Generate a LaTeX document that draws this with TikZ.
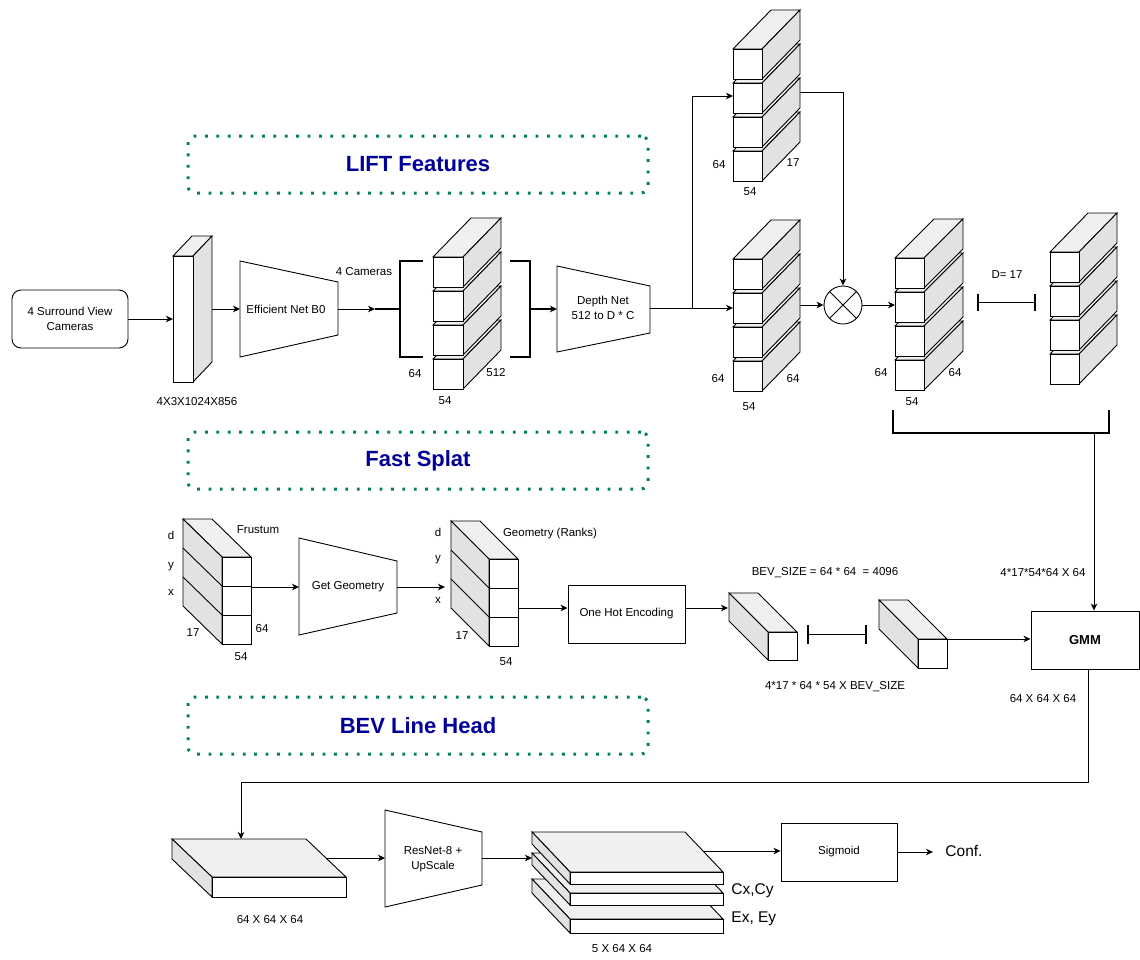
\documentclass[tikz,border=0pt]{standalone}
\usepackage{fontspec}
\setmainfont{Liberation Sans}
\usetikzlibrary{arrows.meta}

\definecolor{topgray}{gray}{0.94}
\definecolor{sidegray}{gray}{0.885}
\definecolor{dotgreen}{RGB}{0,128,96}
\definecolor{titleblue}{RGB}{0,0,153}

% Cuboid whose depth recedes to the upper right.
% #1,#2 = top-left corner of the front face, #3 = width, #4 = height, #5/#6 = depth in x / y
\newcommand{\blockUR}[6]{%
  \filldraw[fill=topgray] (#1,#2) -- ++(#5,-#6) -- ++(#3,0) -- ++(-#5,#6) -- cycle;
  \filldraw[fill=sidegray] (#1+#3,#2) -- ++(#5,-#6) -- ++(0,#4) -- ++(-#5,#6) -- cycle;
  \filldraw[fill=white] (#1,#2) rectangle ++(#3,#4);
}
% Cuboid whose depth recedes to the upper left.
\newcommand{\blockUL}[6]{%
  \filldraw[fill=topgray] (#1,#2) -- ++(-#5,-#6) -- ++(#3,0) -- ++(#5,#6) -- cycle;
  \filldraw[fill=sidegray] (#1,#2) -- ++(-#5,-#6) -- ++(0,#4) -- ++(#5,#6) -- cycle;
  \filldraw[fill=white] (#1,#2) rectangle ++(#3,#4);
}

\begin{document}
\begin{tikzpicture}[x=1pt,y=-1pt,line width=0.9pt,
  lbl/.style={font=\fontsize{11.5}{14.5}\selectfont,inner sep=0pt},
  big/.style={font=\fontsize{15.5}{18}\selectfont,inner sep=0pt},
  arr/.style={-{Stealth[length=7pt,width=6.5pt,inset=2pt]}},
  bracket/.style={line width=2pt},
  dimbar/.style={line width=1.8pt},
  procbox/.style={draw,minimum width=116pt,minimum height=58pt,inner sep=0pt,
    font=\fontsize{11.5}{14.5}\selectfont},
  secbox/.style={draw=dotgreen,line width=3pt,dash pattern=on 2.8pt off 8.6pt,
    rounded corners=7pt,minimum width=460pt,minimum height=57pt,
    text=titleblue,font=\bfseries\fontsize{22}{26}\selectfont}]
\useasboundingbox (0,0) rectangle (1140,959);

% ---------------- section titles ----------------
\node[secbox] (liftT) at (418,164.5) {LIFT Features};
\node[secbox] (splatT) at (418,460.5) {Fast Splat};
\node[secbox] (bevT) at (418,725.5) {BEV Line Head};

% ---------------- camera input ----------------
\node[draw,rounded corners=9pt,minimum width=116pt,minimum height=58pt,align=center,
  font=\fontsize{11.5}{14.5}\selectfont] (cams) at (70,319) {4 Surround View\\Cameras};

\blockUR{173}{256}{20}{126}{19}{20}
\node[lbl] (imgLbl) at (197,402) {4X3X1024X856};
\coordinate (slabIn) at (173,319);
\coordinate (slabOut) at (212,309);
\draw[arr] (cams.east) -- (slabIn);

% EfficientNet encoder
\draw (240,261) -- (338,282) -- (338,335) -- (240,357) -- cycle;
\node[lbl] (eff) at (286,309) {Efficient Net B0};
\coordinate (effIn) at (240,309);
\coordinate (effOut) at (338,309);
\draw[arr] (slabOut) -- (effIn);

% per-camera features between brackets
\coordinate (brTip) at (375,309);
\coordinate (brA) at (400,309);
\draw[arr] (effOut) -- (brTip);
\draw[bracket] (brTip) -- (brA);
\draw[bracket] (423,261) -- (400,261) -- (400,357) -- (423,357);
\node[lbl] (ncam) at (364,272) {4 Cameras};
\foreach \k in {3,2,1,0}{\blockUR{433}{257+34*\k}{30}{30}{38}{39}}
\node[lbl] (f64) at (415,374) {64};
\node[lbl] (f512) at (496,373) {512};
\node[lbl] (f54) at (445,401) {54};
\draw[bracket] (510,261) -- (530,261) -- (530,357) -- (510,357);
\coordinate (brB) at (530,309);

% Depth net
\draw (557,266) -- (650,286) -- (650,333) -- (557,352) -- cycle;
\node[lbl,align=center] (depth) at (603,308) {Depth Net\\512 to D * C};
\coordinate (depthIn) at (557,309);
\coordinate (depthOut) at (650,308);
\draw[bracket,arr] (brB) -- (depthIn);

\coordinate (split) at (692,308);
\coordinate (upIn) at (733,96);
\coordinate (aIn) at (733,308);
\draw (depthOut) -- (split);
\draw[arr] (split) |- (upIn);
\draw[arr] (split) -- (aIn);

% depth distribution (top)
\foreach \k in {3,2,1,0}{\blockUR{733}{49+34*\k}{29}{30}{38}{39}}
\node[lbl] (u64) at (719,165) {64};
\node[lbl] (u17) at (793,163) {17};
\node[lbl] (u54) at (750,192) {54};
\coordinate (upOut) at (800,92);

% context features
\foreach \k in {3,2,1,0}{\blockUR{733}{259+34*\k}{29}{30}{38}{39}}
\node[lbl] (a64l) at (718,379) {64};
\node[lbl] (a64r) at (793,379) {64};
\node[lbl] (a54) at (749,407) {54};
\coordinate (aOut) at (800,305);

% outer product
\node[draw,circle,minimum size=38pt,inner sep=0pt] (mul) at (843,305) {};
\draw (mul.north east) -- (mul.south west) (mul.north west) -- (mul.south east);
\draw[arr] (upOut) -| (mul.north);
\draw[arr] (aOut) -- (mul.west);
\coordinate (bIn) at (895,305);
\draw[arr] (mul.east) -- (bIn);

\foreach \k in {3,2,1,0}{\blockUR{895}{258+34*\k}{29}{30}{39}{39}}
\node[lbl] (b64l) at (881,373) {64};
\node[lbl] (b64r) at (955,373) {64};
\node[lbl] (b54) at (912,402) {54};

\node[lbl] (dlbl) at (1007,275) {D= 17};
\draw[dimbar] (978,294) -- (978,311) (978,302.5) -- (1035,302.5) (1035,294) -- (1035,311);

\foreach \k in {3,2,1,0}{\blockUR{1050}{252+34*\k}{29}{30}{38}{39}}

\draw[bracket] (893,410) -- (893,433) -- (1109,433) -- (1109,410);
\coordinate (brC) at (1094,433);

% GMM
\node[draw,minimum width=108pt,minimum height=58pt,inner sep=0pt,
  font=\bfseries\fontsize{13}{15}\selectfont] (gmm) at (1085,640) {GMM};
\draw[arr] (brC) -- (brC |- gmm.north);
\node[lbl] (gIn) at (1043,573) {4*17*54*64 X 64};
\node[lbl] (gOut) at (1043,699) {64 X 64 X 64};

% ---------------- Fast splat ----------------
\blockUL{222}{557}{29}{87}{39}{38}
\draw (222,586) -- (251,586) (222,615) -- (251,615);
\draw (222,586) -- ++(-39,-38) (222,615) -- ++(-39,-38);
\node[lbl] (frD) at (171,535) {d};
\node[lbl] (frY) at (171,567) {y};
\node[lbl] (frX) at (171,592) {x};
\node[lbl] (fr17) at (193,633) {17};
\node[lbl] (fr64) at (262,629) {64};
\node[lbl] (fr54) at (241,657) {54};
\node[lbl] (frT) at (258,530) {Frustum};
\coordinate (frOut) at (251,587);

\draw (299,538) -- (397,561) -- (397,613) -- (299,635) -- cycle;
\node[lbl] (gg) at (348,587) {Get Geometry};
\coordinate (ggIn) at (299,587);
\coordinate (ggOut) at (397,587);
\coordinate (geoIn) at (445,587);
\draw[arr] (frOut) -- (ggIn);
\draw[arr] (ggOut) -- (geoIn);

\blockUL{489}{559}{29}{87}{38}{38}
\draw (489,588) -- (518,588) (489,617) -- (518,617);
\draw (489,588) -- ++(-38,-38) (489,617) -- ++(-38,-38);
\node[lbl] (geD) at (438,532) {d};
\node[lbl] (geY) at (438,560) {y};
\node[lbl] (geX) at (438,600) {x};
\node[lbl] (ge17) at (462,636) {17};
\node[lbl] (ge54) at (506,662) {54};
\node[lbl] (geT) at (550,534) {Geometry (Ranks)};
\coordinate (geoOut) at (518,608);

\node[procbox,minimum width=117pt] (ohe) at (626.5,614) {One Hot Encoding};
\draw[arr] (geoOut) -- (geoOut -| ohe.west);
\coordinate (cub1In) at (728,608);
\draw[arr] (ohe.east |- geoOut) -- (cub1In);

\blockUL{768}{632}{29}{28}{39}{39}
\draw[dimbar] (808,625) -- (808,644) (808,634.5) -- (866,634.5) (866,625) -- (866,644);
\blockUL{918}{639}{29}{29}{39}{39}
\node[lbl] (bevSz) at (825,573) {BEV\_SIZE = 64 * 64 \ = 4096};
\node[lbl] (ohLbl) at (835,687) {4*17 * 64 * 54 X BEV\_SIZE};
\coordinate (cub2Out) at (947,639);
\draw[arr] (cub2Out) -- (cub2Out -| gmm.west);

% ---------------- BEV line head ----------------
\coordinate (gmmOut) at (1088,669);
\coordinate (turn) at (1088,782);
\coordinate (slabTop) at (241,839);
\draw[arr] (gmmOut) -- (turn) -| (slabTop);

\blockUL{212}{877}{134}{20}{40}{38}
\node[lbl] (bevLbl) at (270,920) {64 X 64 X 64};
\coordinate (bevOut) at (327,858);
\coordinate (resIn) at (385,858);
\draw[arr] (bevOut) -- (resIn);

\draw (385,810) -- (482,832) -- (482,885) -- (385,907) -- cycle;
\node[lbl,align=center] (res) at (433,859) {ResNet-8 +\\UpScale};
\coordinate (resOut) at (482,858);
\coordinate (plIn) at (532,858);
\draw[arr] (resOut) -- (plIn);

\blockUL{570}{919}{153}{14}{38}{40}
\blockUL{570}{893}{153}{12}{38}{40}
\blockUL{570}{872}{153}{12}{38}{40}
\node[big,anchor=west] (cxcy) at (731,891) {Cx,Cy};
\node[big,anchor=west] (exey) at (731,919) {Ex, Ey};
\node[lbl] (outLbl) at (622,949) {5 X 64 X 64};
\coordinate (plOut) at (704,851);

\node[procbox] (sig) at (839,852) {Sigmoid};
\draw[arr] (plOut) -- (plOut -| sig.west);
\node[big,anchor=west] (conf) at (945,851) {Conf.};
\coordinate (confTip) at (933,852);
\draw[arr] (sig.east) -- (confTip);
\end{tikzpicture}
\end{document}
